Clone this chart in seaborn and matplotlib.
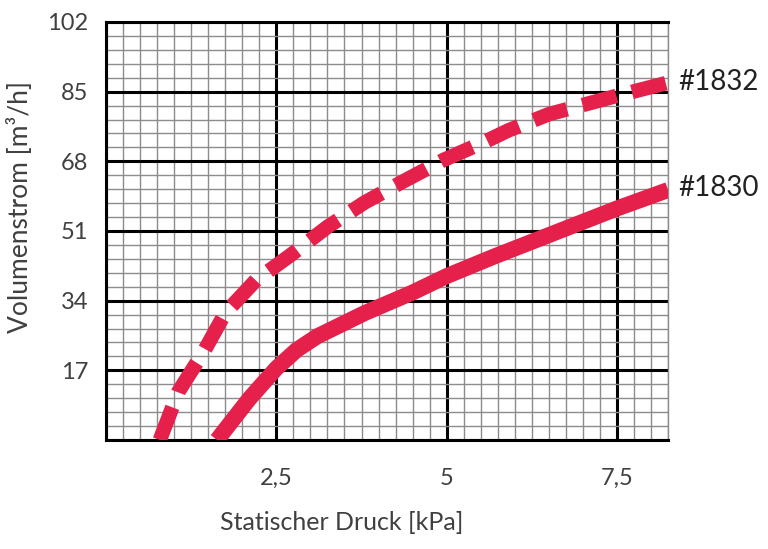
import numpy as np
import pandas as pd
import matplotlib
matplotlib.use("Agg")
import matplotlib.pyplot as plt
import seaborn as sns
from matplotlib.ticker import MultipleLocator

# Kennlinien
druck_1832 = [0.79, 1.06, 1.45, 1.75, 2.2, 2.7, 3.25, 3.8, 4.35, 4.95, 5.55, 5.9, 6.5, 7.5, 8.25]
strom_1832 = [0.0, 11.7, 22.0, 31.0, 39.0, 45.0, 52.0, 58.0, 63.0, 68.3, 72.7, 75.5, 79.5, 84.0, 87.2]

druck_1830 = [1.63, 2.1, 2.5, 2.8, 3.1, 3.8, 4.5, 5.0, 5.7, 6.5, 7.5, 8.25]
strom_1830 = [0.0, 10.0, 17.5, 22.0, 25.3, 31.0, 36.0, 40.0, 44.8, 50.0, 56.5, 61.0]

x_ticks = [0, 2.5, 5, 7.5]
x_labels = ["", "2,5", "5", "7,5"]
y_ticks = [0, 17, 34, 51, 68, 85, 102]
y_labels = ["", "17", "34", "51", "68", "85", "102"]

rot = "#e5214b"
text_col = "#404040"

sns.set_style("white")
plt.rcParams['font.family'] = ['Lato', 'DejaVu Sans']

fig = plt.figure(figsize=(7.68, 5.49), dpi=100)
ax = fig.add_axes([0.138, 0.1985, 0.732, 0.7615])

df_a = pd.DataFrame({"druck": druck_1832, "strom": strom_1832})
df_b = pd.DataFrame({"druck": druck_1830, "strom": strom_1830})

sns.lineplot(data=df_a, x="druck", y="strom", ax=ax, color=rot, lw=10.5,
             linestyle=(0, (2.4, 1.1)), dash_capstyle="butt", solid_joinstyle="round",
             sort=False, zorder=5)
sns.lineplot(data=df_b, x="druck", y="strom", ax=ax, color=rot, lw=11.5,
             solid_capstyle="butt", solid_joinstyle="round", sort=False, zorder=5)

ax.set_xlim(0, 8.25)
ax.set_ylim(0, 102)

ax.set_xticks(x_ticks)
ax.set_xticklabels(x_labels)
ax.set_yticks(y_ticks)
ax.set_yticklabels(y_labels)
ax.xaxis.set_minor_locator(MultipleLocator(0.25))
ax.yaxis.set_minor_locator(MultipleLocator(3.4))

# Millimeterpapier-Raster
ax.grid(which="minor", color="#8c8c8c", lw=1.0, zorder=0)
ax.grid(which="major", color="black", lw=2.2, zorder=1)
ax.set_axisbelow(True)
for side in ["left", "bottom", "top"]:
    ax.spines[side].set_visible(True)
    ax.spines[side].set_color("black")
    ax.spines[side].set_linewidth(2.2)
ax.spines["right"].set_color("#8c8c8c")
ax.spines["right"].set_linewidth(1.0)

ax.tick_params(axis="x", which="major", direction="out", length=12, width=2.2,
               color="black", labelsize=17, labelcolor=text_col, pad=8)
ax.tick_params(axis="x", which="minor", direction="out", length=4, width=1.0, color="#555555")
ax.tick_params(axis="y", which="major", direction="out", length=11, width=2.2,
               color="black", labelsize=17, labelcolor=text_col, pad=2)
ax.tick_params(axis="y", which="minor", length=0)

ax.set_xlabel("Statischer Druck [kPa]", fontsize=18, color=text_col)
ax.set_ylabel("Volumenstrom [m³/h]", fontsize=19, color=text_col)
ax.xaxis.set_label_coords(0.42, -0.17)
ax.yaxis.set_label_coords(-0.13, 0.557)

ax.text(8.4, 87.4, "#1832", fontsize=20, color="#222222", va="center", ha="left", clip_on=False)
ax.text(8.4, 61.5, "#1830", fontsize=20, color="#222222", va="center", ha="left", clip_on=False)

fig.savefig("out.png", dpi=100)
